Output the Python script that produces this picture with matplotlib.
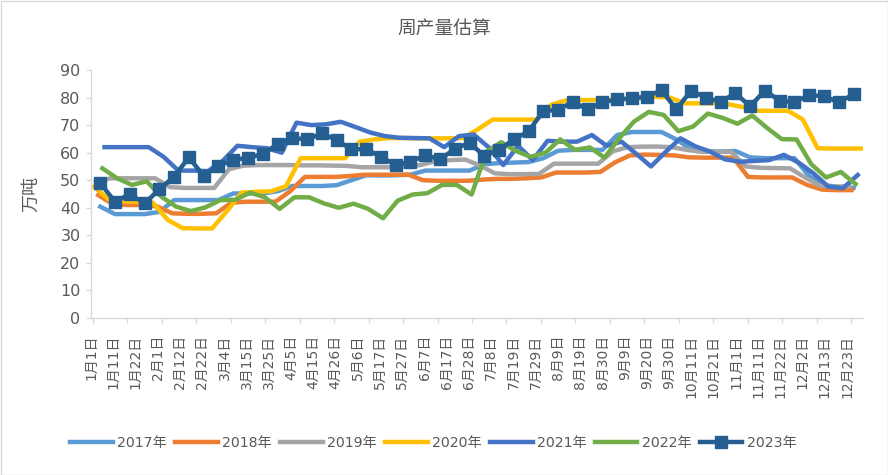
import matplotlib
matplotlib.use('Agg')
import matplotlib.pyplot as plt
import numpy as np
import pandas as pd
from matplotlib.patches import Rectangle

plt.rcParams['font.family'] = ['DejaVu Sans', 'Noto Sans CJK SC']

title = '周产量估算'
ylabel = '万吨'
x_labels = ['1月1日', '1月11日', '1月22日', '2月1日', '2月12日', '2月22日', '3月4日', '3月15日',
            '3月25日', '4月5日', '4月15日', '4月26日', '5月6日', '5月17日', '5月27日', '6月7日',
            '6月17日', '6月28日', '7月8日', '7月19日', '7月29日', '8月9日', '8月19日', '8月30日',
            '9月9日', '9月20日', '9月30日', '10月11日', '10月21日', '11月1日', '11月11日',
            '11月22日', '12月2日', '12月13日', '12月23日']
years = ['2017年', '2018年', '2019年', '2020年', '2021年', '2022年', '2023年']
first_dates = ['2017-01-05', '2018-01-04', '2019-01-03', '2020-01-02', '2021-01-07', '2022-01-06', '2023-01-05']

v2017 = [40.4, 37.7, 37.7, 37.7, 38.5, 42.8, 42.8, 42.8, 42.8, 45.2, 45.2, 45.2, 46.0, 47.9, 47.9, 47.9,
         48.2, 50.0, 51.8, 51.7, 51.8, 52.0, 53.5, 53.5, 53.5, 53.5, 55.8, 56.2, 56.4, 56.6, 58.0, 60.7,
         61.0, 61.0, 61.0, 66.4, 67.5, 67.5, 67.5, 64.8, 61.3, 60.5, 60.4, 60.6, 58.3, 58.0, 58.0, 58.0,
         51.5, 48.2, 47.6, 47.2]
v2018 = [44.6, 41.3, 41.0, 41.0, 40.5, 38.0, 37.8, 37.8, 38.0, 41.8, 42.2, 42.2, 42.2, 46.0, 51.2, 51.2,
         51.2, 51.5, 52.0, 52.0, 52.0, 52.0, 50.0, 49.8, 49.8, 49.8, 50.2, 50.5, 50.5, 50.7, 51.0, 52.8,
         52.8, 52.8, 53.0, 56.5, 59.0, 59.3, 59.2, 59.0, 58.3, 58.2, 58.2, 58.2, 51.2, 51.0, 51.0, 51.0,
         48.3, 46.6, 46.4, 46.4]
v2019 = [49.5, 50.7, 50.7, 50.7, 50.7, 47.5, 47.2, 47.2, 47.2, 54.0, 55.3, 55.5, 55.5, 55.5, 55.4, 55.4,
         55.3, 55.2, 54.7, 54.7, 54.7, 55.0, 55.5, 57.0, 57.3, 57.5, 55.3, 52.5, 52.2, 52.2, 52.3, 56.0,
         56.0, 56.0, 56.0, 60.5, 62.0, 62.2, 62.2, 62.0, 61.0, 60.3, 60.3, 60.3, 55.0, 54.5, 54.4, 54.3,
         51.0, 48.0, 47.6, 47.9]
v2020 = [47.6, 43.0, 42.3, 42.2, 41.8, 35.6, 32.6, 32.5, 32.5, 38.8, 45.5, 45.8, 46.0, 47.8, 58.0, 58.0,
         58.0, 58.0, 64.0, 64.8, 65.3, 65.3, 65.2, 65.2, 65.2, 65.3, 68.5, 72.0, 72.0, 72.0, 72.0, 77.5,
         79.0, 79.1, 79.1, 79.2, 79.5, 80.0, 80.3, 80.0, 77.9, 77.9, 77.9, 77.5, 76.5, 75.2, 75.2, 75.2,
         72.0, 61.6, 61.5, 61.5, 61.5]
v2021 = [62.0, 62.0, 62.0, 62.0, 58.5, 53.5, 53.5, 53.3, 57.0, 62.5, 62.0, 61.6, 60.0, 70.9, 70.0, 70.3,
         71.2, 69.3, 67.3, 66.0, 65.4, 65.3, 65.2, 62.0, 66.0, 66.6, 62.0, 55.5, 62.5, 57.3, 64.3, 64.0,
         64.0, 66.4, 62.5, 64.0, 59.6, 55.0, 60.3, 65.2, 62.3, 60.4, 57.6, 56.7, 57.0, 57.3, 59.2, 56.4,
         52.5, 47.7, 47.1, 51.9]
v2022 = [54.3, 50.7, 48.3, 49.6, 44.0, 40.4, 38.8, 40.2, 42.8, 42.9, 45.5, 43.8, 39.6, 43.8, 43.8, 41.6,
         40.0, 41.5, 39.6, 36.2, 42.6, 44.8, 45.3, 48.3, 48.3, 44.8, 60.3, 63.8, 60.6, 58.5, 60.0, 64.8,
         61.0, 61.9, 58.2, 65.3, 71.3, 74.8, 73.7, 67.8, 69.5, 74.2, 72.6, 70.5, 73.5, 69.0, 64.9, 64.8,
         55.8, 51.0, 53.0, 48.6]
v2023 = [48.9, 42.2, 45.0, 41.6, 46.7, 51.3, 58.3, 51.5, 55.2, 57.3, 58.2, 59.5, 63.1, 65.4, 64.8, 67.0,
         64.6, 61.2, 61.3, 58.5, 55.5, 56.7, 59.1, 57.6, 61.3, 63.6, 58.8, 61.0, 64.8, 67.8, 75.1, 75.5,
         78.5, 75.7, 78.3, 79.3, 79.7, 80.3, 82.7, 75.7, 82.5, 80.0, 78.5, 81.5, 76.9, 82.5, 78.9, 78.3,
         80.9, 80.5, 78.3, 81.2]

series = [v2017, v2018, v2019, v2020, v2021, v2022, v2023]
colors = ['#5B9BD5', '#ED7D31', '#A5A5A5', '#FFC000', '#4472C4', '#70AD47', '#255E91']

W, H = 888, 475
fig = plt.figure(figsize=(W / 100, H / 100), dpi=100)
fig.patch.set_facecolor('white')
ax = fig.add_axes([91 / W, 1 - 318 / H, 772 / W, 248 / H])

for name, start, vals, c in zip(years, first_dates, series, colors):
    d = pd.date_range(start, periods=len(vals), freq='7D')
    x = d.dayofyear.values - 1.5
    if name == '2023年':
        ax.plot(x, vals, color=c, lw=3.2, marker='s', ms=8.6, mec=c, mfc=c,
                solid_joinstyle='round', label=name)
    else:
        ax.plot(x, vals, color=c, lw=3.2, solid_joinstyle='round', label=name)

ax.set_xlim(0, 365)
ax.set_ylim(0, 90)
ax.set_yticks(np.arange(0, 91, 10))

grid_c = '#D9D9D9'
txt_c = '#595959'
for s in ['top', 'right']:
    ax.spines[s].set_visible(False)
for s in ['left', 'bottom']:
    ax.spines[s].set_color(grid_c)
    ax.spines[s].set_linewidth(1.0)

ax.tick_params(axis='y', direction='out', length=3.6, width=1, color=grid_c,
               labelcolor=txt_c, labelsize=11.5, pad=4)

major_pos = np.arange(23) * (7 * 14 / 6)
ax.set_xticks(major_pos)
ax.set_xticklabels([''] * len(major_pos))
ax.tick_params(axis='x', which='major', direction='out', length=3.6, width=1, color=grid_c)

label_pos = np.arange(len(x_labels)) * 10.54 - 0.9
ax.set_xticks(label_pos, labels=x_labels, minor=True)
ax.tick_params(axis='x', which='minor', length=0, pad=12, labelsize=10,
               labelcolor=txt_c, labelrotation=90)

ax.set_ylabel(ylabel, fontsize=13, color=txt_c)
ax.yaxis.set_label_coords(-0.066, 0.5)

fig.text(0.5, 1 - 28 / H, title, ha='center', va='center', fontsize=13.5, color=txt_c)

leg = fig.legend(loc='center', bbox_to_anchor=(0.488, 1 - 443 / H), ncol=7, frameon=False,
                 fontsize=10.2, handlelength=3.0, handletextpad=0.3, columnspacing=0.6,
                 numpoints=1)
for t in leg.get_texts():
    t.set_color(txt_c)

fig.patches.append(Rectangle((0.5 / W, 0.5 / H), 1 - 1 / W, 1 - 1 / H, transform=fig.transFigure,
                             fill=False, edgecolor=grid_c, lw=1))

fig.savefig('out.png', dpi=100)
